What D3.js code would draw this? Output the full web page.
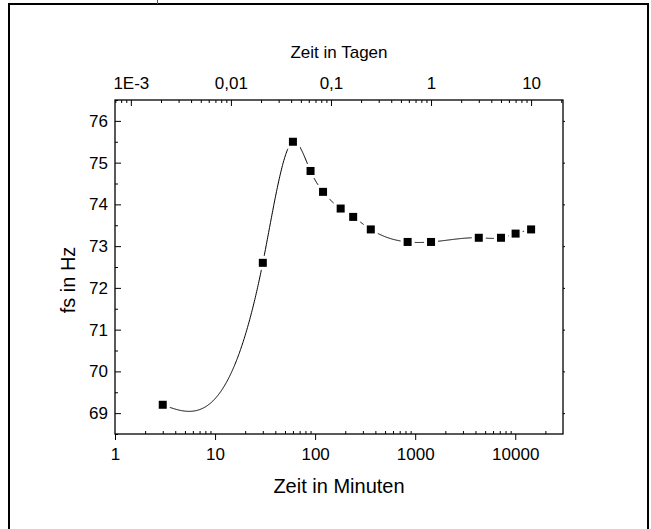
<!DOCTYPE html>
<html>
<head>
<meta charset="utf-8">
<script src="https://cdn.jsdelivr.net/npm/d3@7"></script>
<style>
  body { margin: 0; background: #fff; }
  svg { display: block; font-family: "Liberation Sans", Arial, sans-serif; }
</style>
</head>
<body>
<div id="chart"></div>
<script>
// Frequency fs over time (log scale), minutes on bottom, days on top

var svgWidth = 651;
var svgHeight = 529;

// Plot area
var margin = {top: 100, right: 88, bottom: 95, left: 115};
var chartWidth = svgWidth - margin.left - margin.right;
var chartHeight = svgHeight - margin.top - margin.bottom;

// Data
var timeMinutes = [3, 30, 60, 90, 120, 180, 240, 360, 840, 1440, 4320, 7200, 10080, 14400];
var freqHz = [69.2, 72.6, 75.5, 74.8, 74.3, 73.9, 73.7, 73.4, 73.1, 73.1, 73.2, 73.2, 73.3, 73.4];

var minuteTicks = [1, 10, 100, 1000, 10000];
var dayTicks = [0.001, 0.01, 0.1, 1, 10];
var dayLabels = ["1E-3", "0,01", "0,1", "1", "10"];
var freqTicks = [69, 70, 71, 72, 73, 74, 75, 76];
var minutesPerDay = 1440;

var svg = d3.select("#chart").append("svg")
    .attr("width", svgWidth)
    .attr("height", svgHeight);

// Outer frame (page border)
svg.append("path")
    .attr("d", "M9,529 V4 H648 V529")
    .attr("fill", "none")
    .attr("stroke", "black")
    .attr("stroke-width", 2);
svg.append("line")
    .attr("x1", 157.5).attr("x2", 157.5)
    .attr("y1", 0).attr("y2", 4)
    .attr("stroke", "#555").attr("stroke-width", 1);

var chartGroup = svg.append("g")
    .attr("transform", `translate(${margin.left}, ${margin.top})`);

// Scales
var xScale = d3.scaleLog()
    .domain([1, 30000])
    .range([0, chartWidth]);

var xDayScale = d3.scaleLog()
    .domain([1 / minutesPerDay, 30000 / minutesPerDay])
    .range([0, chartWidth]);

var yScale = d3.scaleLinear()
    .domain([68.5, 76.5])
    .range([chartHeight, 0]);

// minor ticks for log axes: 2..9 of each decade inside the domain
function minorLog(scale) {
    var d = scale.domain();
    var out = [];
    for (var e = Math.floor(Math.log10(d[0])); e <= Math.ceil(Math.log10(d[1])); e++) {
        for (var m = 2; m <= 9; m++) {
            var v = m * Math.pow(10, e);
            if (v > d[0] * 1.001 && v < d[1]) out.push(v);
        }
    }
    return out;
}

function styleAxis(g) {
    g.select(".domain").remove();
    g.selectAll("line").attr("stroke", "black").attr("stroke-width", 1);
    g.selectAll("text").attr("fill", "black");
}

// Bottom axis (minutes)
chartGroup.append("g")
    .attr("transform", `translate(0, ${chartHeight})`)
    .call(d3.axisBottom(xScale).tickValues(minuteTicks).tickFormat(d3.format("d")).tickSize(6).tickPadding(8))
    .call(styleAxis)
    .selectAll("text").attr("font-size", "17px");

chartGroup.append("g")
    .attr("transform", `translate(0, ${chartHeight})`)
    .call(d3.axisTop(xScale).tickValues(minorLog(xScale)).tickFormat("").tickSize(3))
    .call(styleAxis);

// Top axis (days)
chartGroup.append("g")
    .call(d3.axisTop(xDayScale).tickValues(dayTicks).tickFormat((d, i) => dayLabels[i]).tickSize(0).tickPadding(11))
    .call(styleAxis)
    .selectAll("text").attr("font-size", "17px");

chartGroup.append("g")
    .call(d3.axisBottom(xDayScale).tickValues(dayTicks).tickFormat("").tickSize(6))
    .call(styleAxis);

chartGroup.append("g")
    .call(d3.axisBottom(xDayScale).tickValues(minorLog(xDayScale)).tickFormat("").tickSize(3))
    .call(styleAxis);

// Left axis
chartGroup.append("g")
    .call(d3.axisLeft(yScale).tickValues(freqTicks).tickFormat(d3.format("d")).tickSize(0).tickPadding(7))
    .call(styleAxis)
    .selectAll("text").attr("font-size", "17px");

chartGroup.append("g")
    .call(d3.axisRight(yScale).tickValues(freqTicks).tickFormat("").tickSize(6))
    .call(styleAxis);

chartGroup.append("g")
    .call(d3.axisRight(yScale).tickValues(freqTicks.map(d => d - 0.5).concat([76.5])).tickFormat("").tickSize(3))
    .call(styleAxis);

// Right axis
chartGroup.append("g")
    .attr("transform", `translate(${chartWidth}, 0)`)
    .call(d3.axisRight(yScale).tickValues(freqTicks).tickFormat("").tickSize(2))
    .call(styleAxis);

// Axis lines
chartGroup.append("rect")
    .attr("x", 0).attr("y", 0)
    .attr("width", chartWidth).attr("height", chartHeight)
    .attr("fill", "none")
    .attr("stroke", "black")
    .attr("stroke-width", 1.3);

// Natural cubic spline y(log10 t), sampled and drawn on the log axis
function naturalSpline(xs, ys) {
    var n = xs.length;
    var h = [], alpha = [0];
    for (var i = 0; i < n - 1; i++) h.push(xs[i + 1] - xs[i]);
    for (var i = 1; i < n - 1; i++) {
        alpha.push(3 / h[i] * (ys[i + 1] - ys[i]) - 3 / h[i - 1] * (ys[i] - ys[i - 1]));
    }
    var l = [1], mu = [0], z = [0];
    for (var i = 1; i < n - 1; i++) {
        l[i] = 2 * (xs[i + 1] - xs[i - 1]) - h[i - 1] * mu[i - 1];
        mu[i] = h[i] / l[i];
        z[i] = (alpha[i] - h[i - 1] * z[i - 1]) / l[i];
    }
    var c = new Array(n).fill(0), b = [], d = [];
    for (var j = n - 2; j >= 0; j--) {
        c[j] = z[j] - mu[j] * c[j + 1];
        b[j] = (ys[j + 1] - ys[j]) / h[j] - h[j] * (c[j + 1] + 2 * c[j]) / 3;
        d[j] = (c[j + 1] - c[j]) / (3 * h[j]);
    }
    return function (x) {
        var k = 0;
        while (k < n - 2 && x > xs[k + 1]) k++;
        var dx = x - xs[k];
        return ys[k] + b[k] * dx + c[k] * dx * dx + d[k] * dx * dx * dx;
    };
}

var logTimes = timeMinutes.map(t => Math.log10(t));
var f = naturalSpline(logTimes, freqHz);
var curvePts = [];
var lx0 = logTimes[0], lx1 = logTimes[logTimes.length - 1];
for (var s = 0; s <= 800; s++) {
    var u = lx0 + (lx1 - lx0) * s / 800;
    curvePts.push([xScale(Math.pow(10, u)), yScale(f(u))]);
}

chartGroup.append("path")
    .attr("d", d3.line()(curvePts))
    .attr("fill", "none")
    .attr("stroke", "black")
    .attr("stroke-width", 1);

// Square markers with a white halo (gap in the line)
var points = timeMinutes.map((t, i) => [xScale(t), yScale(freqHz[i])]);

var markers = chartGroup.selectAll(".marker")
    .data(points)
    .enter()
    .append("g")
    .attr("class", "marker");

markers.append("rect")
    .attr("x", d => d[0] - 7)
    .attr("y", d => d[1] - 7)
    .attr("width", 14)
    .attr("height", 14)
    .attr("fill", "white");

markers.append("rect")
    .attr("x", d => d[0] - 4)
    .attr("y", d => d[1] - 4)
    .attr("width", 8)
    .attr("height", 8)
    .attr("fill", "black");

// Axis titles
chartGroup.append("text")
    .attr("text-anchor", "middle")
    .attr("x", chartWidth / 2)
    .attr("y", chartHeight + 59)
    .attr("font-size", "20px")
    .text("Zeit in Minuten");

chartGroup.append("text")
    .attr("text-anchor", "middle")
    .attr("x", chartWidth / 2)
    .attr("y", -42)
    .attr("font-size", "17px")
    .text("Zeit in Tagen");

chartGroup.append("text")
    .attr("text-anchor", "middle")
    .attr("transform", `translate(-40, ${chartHeight / 2 + 13}) rotate(-90)`)
    .attr("font-size", "20px")
    .text("fs in Hz");
</script>
</body>
</html>
